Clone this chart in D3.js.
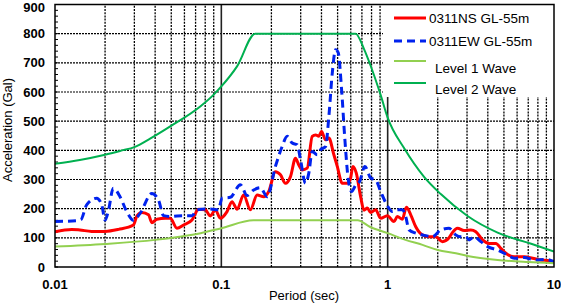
<!DOCTYPE html>
<html>
<head>
<meta charset="utf-8">
<script src="https://cdn.jsdelivr.net/npm/d3@7"></script>
<style>
  body { margin: 0; background: #fff; }
  svg { display: block; font-family: "Liberation Sans", Arial, sans-serif; }
</style>
</head>
<body>
<div id="chart"></div>
<script>
// period (sec), acceleration (Gal)
const ns = [[0.0100,121],[0.0126,129],[0.0141,127],[0.0166,122],[0.0200,122],[0.0241,129],[0.0296,144],[0.0311,175],[0.0333,187],[0.0365,179],[0.0382,152],[0.0410,164],[0.0460,167],[0.0493,167],[0.0541,133],[0.0593,144],[0.0666,161],[0.0730,198],[0.0801,196],[0.0858,175],[0.0920,196],[0.0986,167],[0.1082,190],[0.1160,224],[0.1243,198],[0.1362,247],[0.1495,196],[0.1641,247],[0.1798,241],[0.1927,259],[0.2115,327],[0.2267,316],[0.2430,287],[0.2605,310],[0.2792,373],[0.2922,350],[0.3063,333],[0.3284,339],[0.3519,448],[0.3685,453],[0.3856,448],[0.4004,465],[0.4232,436],[0.4431,442],[0.4749,385],[0.4977,345],[0.5335,287],[0.5719,287],[0.5986,305],[0.6180,345],[0.6478,322],[0.6877,241],[0.7200,195],[0.7547,202],[0.7902,187],[0.8467,196],[0.9073,167],[0.9959,176],[1.091,156],[1.144,173],[1.226,164],[1.296,205],[1.376,179],[1.475,138],[1.618,110],[1.774,104],[1.946,104],[2.135,87],[2.340,100],[2.450,118],[2.630,133],[2.881,125],[3.162,127],[3.389,121],[3.720,93],[4.076,81],[4.473,81],[4.795,64],[5.139,47],[5.766,35],[6.624,35],[7.442,30],[8.350,24],[9.162,22],[10.0,18]];
const ew = [[0.0100,156],[0.0135,159],[0.0143,162],[0.0155,213],[0.0178,236],[0.0191,213],[0.0200,161],[0.0210,196],[0.0224,270],[0.0246,241],[0.0270,190],[0.0296,160],[0.0325,184],[0.0382,252],[0.0419,230],[0.0449,176],[0.0493,173],[0.0541,175],[0.0666,176],[0.0714,196],[0.0858,199],[0.0959,196],[0.1010,236],[0.1133,239],[0.1302,282],[0.1428,245],[0.1565,264],[0.1718,272],[0.1885,241],[0.2115,345],[0.2321,413],[0.2488,448],[0.2667,425],[0.2859,419],[0.2992,368],[0.3206,287],[0.3357,322],[0.3519,396],[0.3772,385],[0.3949,402],[0.4232,413],[0.4431,516],[0.4645,665],[0.4862,745],[0.5047,734],[0.5284,608],[0.5532,436],[0.5799,299],[0.6069,259],[0.6416,280],[0.6782,293],[0.7300,345],[0.7902,305],[0.8467,299],[0.9073,259],[0.9959,210],[1.067,190],[1.144,196],[1.226,196],[1.284,173],[1.344,127],[1.475,116],[1.618,110],[1.859,104],[2.086,127],[2.340,133],[2.568,110],[2.751,104],[2.951,104],[3.089,93],[3.310,104],[3.633,87],[3.987,70],[4.580,58],[5.262,41],[5.766,30],[6.624,33],[7.609,24],[8.950,26],[10.0,18]];
const level1 = [[0.01,70],[0.02,79],[0.04,93],[0.056,104],[0.075,116],[0.1,133],[0.156,160],[0.66,160],[0.78,138],[1.0,116],[1.28,93],[1.62,76],[2.0,58],[2.57,47],[3.02,38],[4.58,24],[7.0,17],[10,13]];
const level2 = [[0.01,354],[0.0141,367],[0.02,385],[0.0246,398],[0.0303,412],[0.0373,440],[0.0493,482],[0.075,551],[0.0897,590],[0.1,619],[0.1243,688],[0.16,800],[0.642,800],[0.72,748],[0.79,690],[0.907,590],[1.0,512],[1.26,406],[1.655,309],[2.086,250],[3.02,175],[4.58,118],[7.44,78],[10,53]];

const yTicks = [0,100,200,300,400,500,600,700,800,900];
const xDecades = [0.01,0.1,1,10];
const xTickLabels = ["0.01","0.1","1","10"];
const legendLabels = ["0311NS GL-55m","0311EW GL-55m","Level 1 Wave","Level 2 Wave"];

const W = 561, H = 304;
const svg = d3.select("#chart").append("svg").attr("width", W).attr("height", H);

const x = d3.scaleLog().domain([0.01, 10]).range([55, 554]);
const y = d3.scaleLinear().domain([0, 900]).range([267, 4.5]);

// minor verticals 2..9 in each decade
let minors = [];
xDecades.slice(0, 3).forEach(d => { for (let k = 2; k <= 9; k++) minors.push(d * k); });

const grid = svg.append("g");
grid.selectAll(".vmin").data(minors).enter().append("line")
  .attr("x1", d => x(d)).attr("x2", d => x(d))
  .attr("y1", y(0)).attr("y2", y(900))
  .attr("stroke", "#000").attr("stroke-width", 1.3).attr("stroke-dasharray", "2,1.2");
grid.selectAll(".hgrid").data(yTicks.slice(1, -1)).enter().append("line")
  .attr("x1", x(0.01)).attr("x2", x(10))
  .attr("y1", d => y(d)).attr("y2", d => y(d))
  .attr("stroke", "#000").attr("stroke-width", 1.2).attr("stroke-dasharray", "2,1");
grid.selectAll(".vmaj").data([0.1, 1]).enter().append("line")
  .attr("x1", d => x(d)).attr("x2", d => x(d))
  .attr("y1", y(0)).attr("y2", y(900))
  .attr("stroke", "#222").attr("stroke-width", 1.6);

// small ticks on left spine every 20
grid.selectAll(".ytk").data(d3.range(0, 901, 20)).enter().append("line")
  .attr("x1", x(0.01)).attr("x2", x(0.01) + 3)
  .attr("y1", d => y(d)).attr("y2", d => y(d))
  .attr("stroke", "#000").attr("stroke-width", 1);

svg.append("clipPath").attr("id", "clip").append("rect")
  .attr("x", x(0.01)).attr("y", y(900)).attr("width", x(10) - x(0.01)).attr("height", y(0) - y(900));

const line = d3.line().x(d => x(d[0])).y(d => y(d[1])).curve(d3.curveMonotoneX);
const plot = svg.append("g").attr("clip-path", "url(#clip)");

plot.append("path").datum(ns).attr("d", line)
  .attr("fill", "none").attr("stroke", "#ff0000").attr("stroke-width", 3).attr("stroke-linejoin", "round");
plot.append("path").datum(ew).attr("d", line)
  .attr("fill", "none").attr("stroke", "#0022ee").attr("stroke-width", 3).attr("stroke-dasharray", "8,5");
plot.append("path").datum(level1).attr("d", line)
  .attr("fill", "none").attr("stroke", "#92d050").attr("stroke-width", 2);
plot.append("path").datum(level2).attr("d", line)
  .attr("fill", "none").attr("stroke", "#00b050").attr("stroke-width", 2);

// legend
const lg = svg.append("g");
lg.append("rect").attr("x", 383).attr("y", y(900)).attr("width", x(10) - 383).attr("height", 97 - y(900))
  .attr("fill", "#fff");
const lgStyle = [
  {c: "#ff0000", w: 3, dash: null, ly: 18, ty: 18, tx: 429},
  {c: "#0022ee", w: 3, dash: "8,5", ly: 41, ty: 41, tx: 429},
  {c: "#92d050", w: 2, dash: null, ly: 61, ty: 68, tx: 435},
  {c: "#00b050", w: 2, dash: null, ly: 83, ty: 89, tx: 435}
];
legendLabels.forEach((t, i) => {
  const s = lgStyle[i];
  lg.append("line").attr("x1", 394).attr("x2", 426).attr("y1", s.ly).attr("y2", s.ly)
    .attr("stroke", s.c).attr("stroke-width", s.w).attr("stroke-dasharray", s.dash);
  lg.append("text").attr("x", s.tx).attr("y", s.ty).attr("dy", "0.35em")
    .attr("font-size", 13.5).attr("fill", "#000").text(t);
});

// frame
svg.append("rect").attr("x", x(0.01)).attr("y", y(900))
  .attr("width", x(10) - x(0.01)).attr("height", y(0) - y(900))
  .attr("fill", "none").attr("stroke", "#000").attr("stroke-width", 1.5);

// tick labels
svg.selectAll(".ylab").data(yTicks).enter().append("text")
  .attr("x", 45).attr("y", d => Math.max(y(d), 7)).attr("dy", "0.35em")
  .attr("text-anchor", "end").attr("font-size", 13).attr("font-weight", "bold")
  .text(d => d);
svg.selectAll(".xlab").data(xDecades).enter().append("text")
  .attr("x", d => x(d)).attr("y", 289)
  .attr("text-anchor", "middle").attr("font-size", 13).attr("font-weight", "bold")
  .text((d, i) => xTickLabels[i]);

svg.append("text").attr("x", 304).attr("y", 300).attr("text-anchor", "middle")
  .attr("font-size", 13).text("Period (sec)");
svg.append("text").attr("transform", "translate(12,130) rotate(-90)")
  .attr("text-anchor", "middle").attr("font-size", 13).text("Acceleration (Gal)");
</script>
</body>
</html>
